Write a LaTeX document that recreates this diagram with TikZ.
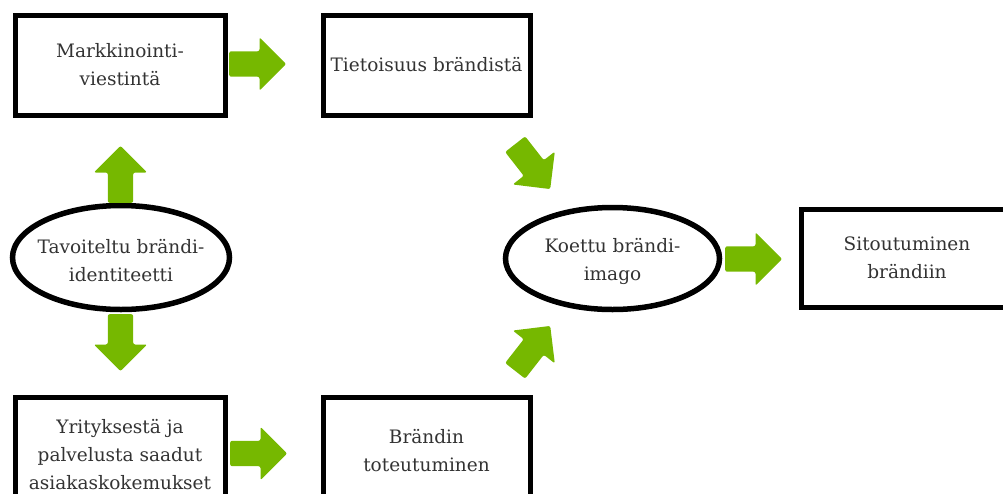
\documentclass[tikz,border=0pt]{standalone}
\usepackage{fontspec}
\setmainfont{DejaVu Serif}
\usetikzlibrary{shapes.geometric,shapes.arrows}
\definecolor{leaf}{RGB}{118,184,0}
\definecolor{ink}{RGB}{51,51,51}
\begin{document}
\begin{tikzpicture}[x=1pt,y=-1pt,
  caption/.style={text=ink,align=center,inner sep=0pt,font=\fontsize{18.5}{28}\selectfont},
  box/.style={caption,draw=black,line width=5pt,minimum width=210pt,minimum height=100pt},
  oval/.style={ellipse,draw=black,line width=5.5pt,inner sep=0pt},
  garrow/.style={single arrow,fill=leaf,draw=none,rounded corners=2pt,
    inner xsep=0pt,inner ysep=12.5pt,text height=0pt,text depth=0pt,
    minimum height=57pt,single arrow head extend=14pt,anchor=tail}]
\useasboundingbox (0,0) rectangle (1003,493);
\clip (0,0) rectangle (1003,493);

% rectangular stages
\node[box] (mark) at (120,65) {Markkinointi-\\viestintä};
\node[box,minimum width=207pt] (tiet) at (426.5,65) {Tietoisuus brändistä};
\node[box,minimum height=116pt] (yrit) at (120,455) {Yrityksestä ja\\palvelusta saadut\\asiakaskokemukset};
\node[box,minimum width=207pt,minimum height=108pt] (toteu) at (426.5,451) {Brändin\\toteutuminen};
\node[box,minimum width=212pt,minimum height=98pt] (sito) at (907,258) {Sitoutuminen\\brändiin};

% brand identity and brand image
\node[oval,minimum width=217pt,minimum height=104pt] (tavo) at (121,257.5) {};
\node[caption] at ([yshift=-3pt]tavo.center) {Tavoiteltu brändi-\\identiteetti};
\node[oval,minimum width=214pt,minimum height=102pt] (koet) at (612.5,258.5) {};
\node[caption] at ([yshift=-3pt]koet.center) {Koettu brändi-\\imago};

% block arrows
\node[garrow] (a1) at (229,64) {};
\node[garrow,rotate=90] (a2) at (120.5,203) {};
\node[garrow,rotate=-90] (a3) at (120.5,314) {};
\node[garrow] (a4) at (230,453.5) {};
\node[garrow,rotate=-52] (a5) at (515,144) {};
\node[garrow,rotate=52] (a6) at (515,371) {};
\node[garrow] (a7) at (725,259) {};
\end{tikzpicture}
\end{document}
